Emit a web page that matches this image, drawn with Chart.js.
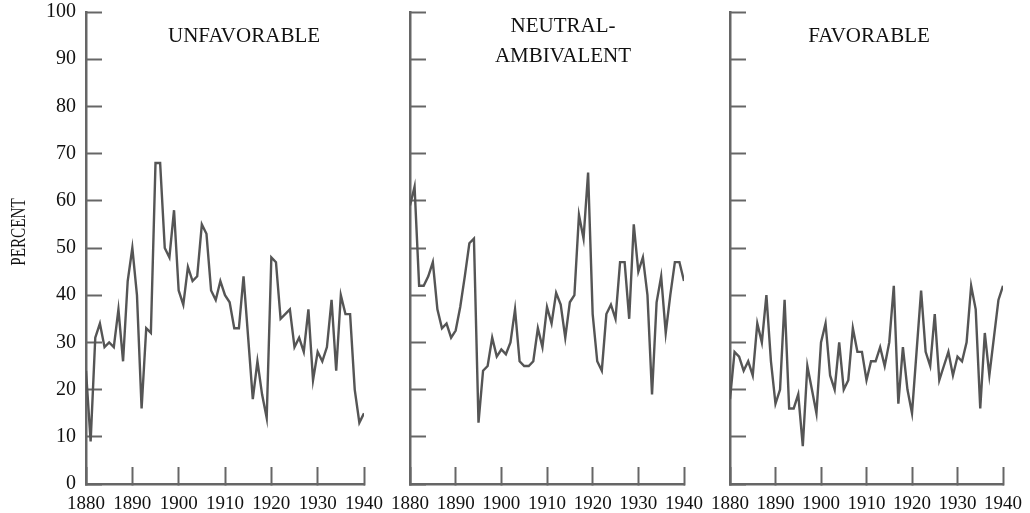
<!DOCTYPE html>
<html>
<head>
<meta charset="utf-8">
<script src="https://cdn.jsdelivr.net/npm/chart.js@4"></script>
<style>
html,body{margin:0;padding:0;background:#fff;}
#wrap{position:relative;width:1030px;height:513px;overflow:hidden;background:#fff;}
canvas{position:absolute;top:0;}
</style>
</head>
<body>
<div id="wrap">
<canvas id="c1" width="400" height="513" style="left:0px"></canvas>
<canvas id="c2" width="330" height="513" style="left:380px"></canvas>
<canvas id="c3" width="330" height="513" style="left:700px"></canvas>
</div>
<script>
// ---- data ----
const years = [1880,1881,1882,1883,1884,1885,1886,1887,1888,1889,
               1890,1891,1892,1893,1894,1895,1896,1897,1898,1899,
               1900,1901,1902,1903,1904,1905,1906,1907,1908,1909,
               1910,1911,1912,1913,1914,1915,1916,1917,1918,1919,
               1920,1921,1922,1923,1924,1925,1926,1927,1928,1929,
               1930,1931,1932,1933,1934,1935,1936,1937,1938,1939,
               1940];
const unfavorable = [24,9,31,34,29,30,29,37,26,43,
                     50,40,16,33,32,68,68,50,48,58,
                     41,38,46,43,44,55,53,41,39,43,
                     40,38.5,33,33,44,31,18,26,19,14,
                     48,47,35,36,37,29,31,28,37,22,
                     28,26,29,39,24,40,36,36,20,13,
                     15];
const neutralAmbivalent = [59,63,42,42,44,47,37,33,34,31,
                           32.5,37.5,44,51,52,13,24,25,31,27,
                           28.5,27.5,30,37,26,25,25,26,33,29,
                           37.5,34,40.5,38,31,38.5,40,57,52,66,
                           36,26,24,36,38,35,47,47,35,55,
                           45,48,40,19,38.5,44,32,40,47,47,
                           43];
const favorable = [18,28,27,24,26,23,34,30,40,26,
                   17,20,39,16,16,19,8,25,20,15,
                   30,34,23,20,30,20,22,33,28,28,
                   22,26,26,29,25,30,42,17,29,20,
                   15,28,41,28,25,36,22,25,28,23,
                   27,26,30,42,37,16,32,23,31,39,
                   42];
const xTickValues = [1880,1890,1900,1910,1920,1930,1940];
const yTickValues = [0,10,20,30,40,50,60,70,80,90,100];
const panelTitles = [["UNFAVORABLE"],["NEUTRAL-","AMBIVALENT"],["FAVORABLE"]];
const yAxisTitle = "PERCENT";

// ---- styling ----
const LINE = '#555555';
const AXIS = '#666666';
const TEXT = '#111111';
const FONT = '"Liberation Serif", "DejaVu Serif", serif';

const textPlugin = {
  id: 'panelText',
  afterDraw(chart, args, o) {
    const ctx = chart.ctx;
    ctx.save();
    ctx.fillStyle = TEXT;
    ctx.font = '21px ' + FONT;
    ctx.textAlign = 'center';
    ctx.textBaseline = 'alphabetic';
    (o.lines || []).forEach(l => ctx.fillText(l.text, l.x, l.y));
    if (o.yTitle) {
      ctx.font = '22px ' + FONT;
      ctx.translate(o.yTitle.x, o.yTitle.y);
      ctx.rotate(-Math.PI / 2);
      ctx.scale(o.yTitle.sx, 1);
      ctx.textBaseline = 'middle';
      ctx.fillText(o.yTitle.text, 0, 0);
    }
    ctx.restore();
  }
};

function makeChart(id, values, cfg) {
  return new Chart(document.getElementById(id), {
    type: 'line',
    data: {
      datasets: [{
        data: years.map((yr, i) => ({ x: yr, y: values[i] })),
        borderColor: LINE,
        borderWidth: 2.4,
        pointRadius: 0,
        tension: 0,
        fill: false
      }]
    },
    options: {
      responsive: false,
      animation: false,
      devicePixelRatio: 1,
      layout: { padding: { top: 12, right: cfg.padRight, left: 0, bottom: 0 } },
      plugins: {
        legend: { display: false },
        tooltip: { enabled: false },
        panelText: { lines: cfg.lines, yTitle: cfg.yTitle }
      },
      scales: {
        x: {
          type: 'linear',
          min: 1880, max: 1940,
          afterBuildTicks: s => { s.ticks = xTickValues.map(v => ({ value: v })); },
          afterFit: s => { s.height = 29; s.paddingLeft = 0; s.paddingRight = 0; },
          ticks: {
            color: TEXT,
            font: { family: FONT, size: 19, lineHeight: 1 },
            padding: 28,
            maxRotation: 0,
            autoSkip: false,
            callback: v => String(v)
          },
          grid: { display: true, drawOnChartArea: false, drawTicks: true, tickLength: -17, tickColor: AXIS, tickWidth: 2 },
          border: { display: true, color: AXIS, width: 2.5 }
        },
        y: {
          type: 'linear',
          min: 0, max: 100,
          afterBuildTicks: s => { s.ticks = yTickValues.map(v => ({ value: v })); },
          afterFit: s => { s.width = cfg.yWidth; s.paddingTop = 0; s.paddingBottom = 0; },
          ticks: {
            display: cfg.yLabels,
            color: TEXT,
            font: { family: FONT, size: 20, lineHeight: 1 },
            padding: 26,
            callback: v => String(v)
          },
          grid: { display: true, drawOnChartArea: false, drawTicks: true, tickLength: -16, tickColor: AXIS, tickWidth: 2 },
          border: { display: true, color: AXIS, width: 2.5 }
        }
      }
    },
    plugins: [textPlugin]
  });
}

makeChart('c1', unfavorable, {
  yWidth: 86, padRight: 36, yLabels: true,
  lines: [{ text: panelTitles[0][0], x: 244, y: 42 }],
  yTitle: { text: yAxisTitle, x: 19, y: 232, sx: 0.69 }
});
makeChart('c2', neutralAmbivalent, {
  yWidth: 30, padRight: 26, yLabels: false,
  lines: [{ text: panelTitles[1][0], x: 183, y: 32 }, { text: panelTitles[1][1], x: 183, y: 62 }]
});
makeChart('c3', favorable, {
  yWidth: 30, padRight: 27, yLabels: false,
  lines: [{ text: panelTitles[2][0], x: 169, y: 42 }]
});
</script>
</body>
</html>
